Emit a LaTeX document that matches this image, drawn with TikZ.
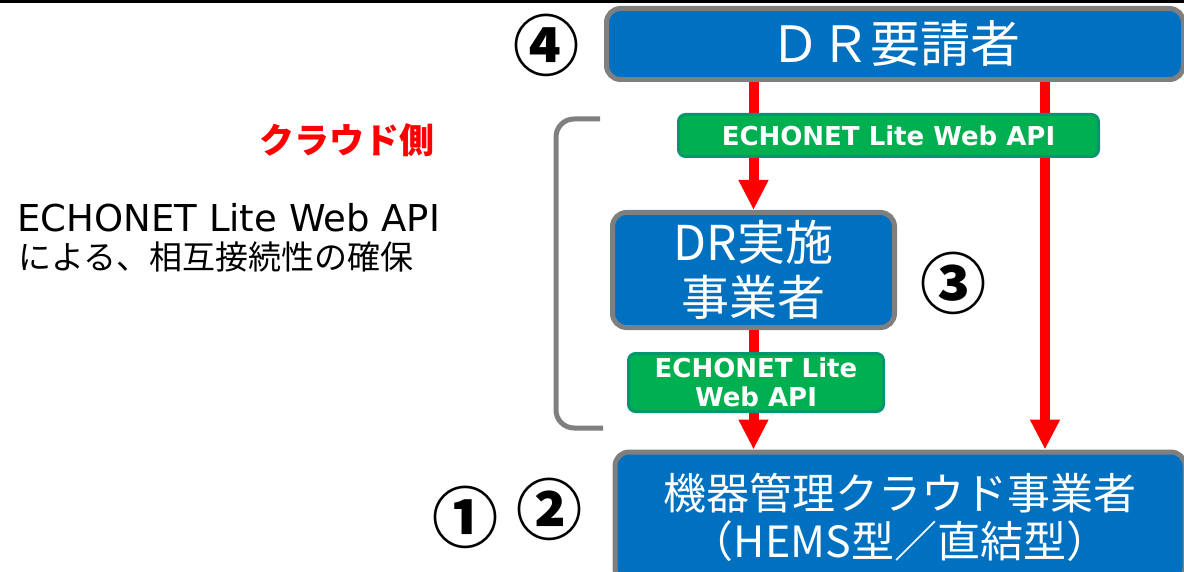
\documentclass[tikz,border=0pt]{standalone}
\usepackage{fontspec}
\setmainfont{Noto Sans CJK JP}
\newfontfamily\latinfont{DejaVu Sans}
\usepackage{tikz}
\usetikzlibrary{arrows.meta, positioning}
\definecolor{actorblue}{RGB}{0, 112, 192}
\definecolor{framegray}{RGB}{127, 127, 127}
\definecolor{apigreen}{RGB}{0, 176, 80}
\definecolor{apiedge}{RGB}{0, 150, 110}
\definecolor{flowred}{RGB}{255, 0, 0}

\begin{document}
\begin{tikzpicture}[x=1pt, y=-1pt,
        actor/.style={draw=framegray, line width=5pt, fill=actorblue, rounded corners=14pt, text=white, align=center, inner sep=0pt},
        api/.style={draw=apiedge, line width=3pt, fill=apigreen, rounded corners=7pt, text=white, align=center, inner sep=0pt, font=\latinfont\bfseries\fontsize{26}{29}\selectfont},
        flow/.style={flowred, line width=10pt, -{Triangle[width=28pt, length=30pt]}},
        numtag/.style={inner sep=0pt, font=\bfseries\fontsize{66}{66}\selectfont}]
        \clip (0,0) rectangle (1184,572);
        \draw[line width=3pt] (0,1.5) -- (1184,1.5);
        \node[actor, minimum width=577pt, minimum height=71pt, font=\fontsize{50}{52}\selectfont] (req) at (895,44) {ＤＲ要請者};
        \node[actor, minimum width=282pt, minimum height=115pt, font=\fontsize{48}{55}\selectfont] (impl) at (753.5,270) {DR実施\\事業者};
        \node[actor, minimum width=570pt, minimum height=130pt, font=\fontsize{43}{48}\selectfont] (dev) at (900,517) {機器管理クラウド事業者\\（HEMS型／直結型）};
        \draw[flow] (req.south -| impl.north) -- (impl.north);
        \draw[flow] (impl.south) -- (impl.south |- dev.north);
        \draw[flow] ([xshift=150pt]req.south) -- ([xshift=150pt]req.south |- dev.north);
        \node[api, minimum width=420pt, minimum height=42pt] (api1) at (888.5,135.5) {ECHONET Lite Web API};
        \node[api, minimum width=255pt, minimum height=58pt] (api2) at (756,382.5) {ECHONET Lite\\Web API};
        % cloud side bracket
        \draw[framegray, line width=5pt, rounded corners=18pt] (600,119) -- (556,119) -- (556,428) -- (603,428);
        \node[numtag] (n4) at (546,45) {④};
        \node[numtag] (n3) at (953,283) {③};
        \node[numtag] (n1) at (465,517) {①};
        \node[numtag] (n2) at (549,509) {②};
        \node[anchor=east, text=flowred, font=\bfseries\fontsize{35}{40}\selectfont] (side) at (438,140) {クラウド側};
        \node[anchor=west, font=\latinfont\fontsize{37}{40}\selectfont] (note) at (14,218) {ECHONET Lite Web API};
        \node[anchor=west, font=\fontsize{33}{39}\selectfont] (note2) at (15,257) {による、相互接続性の確保};
    \end{tikzpicture}
\end{document}
